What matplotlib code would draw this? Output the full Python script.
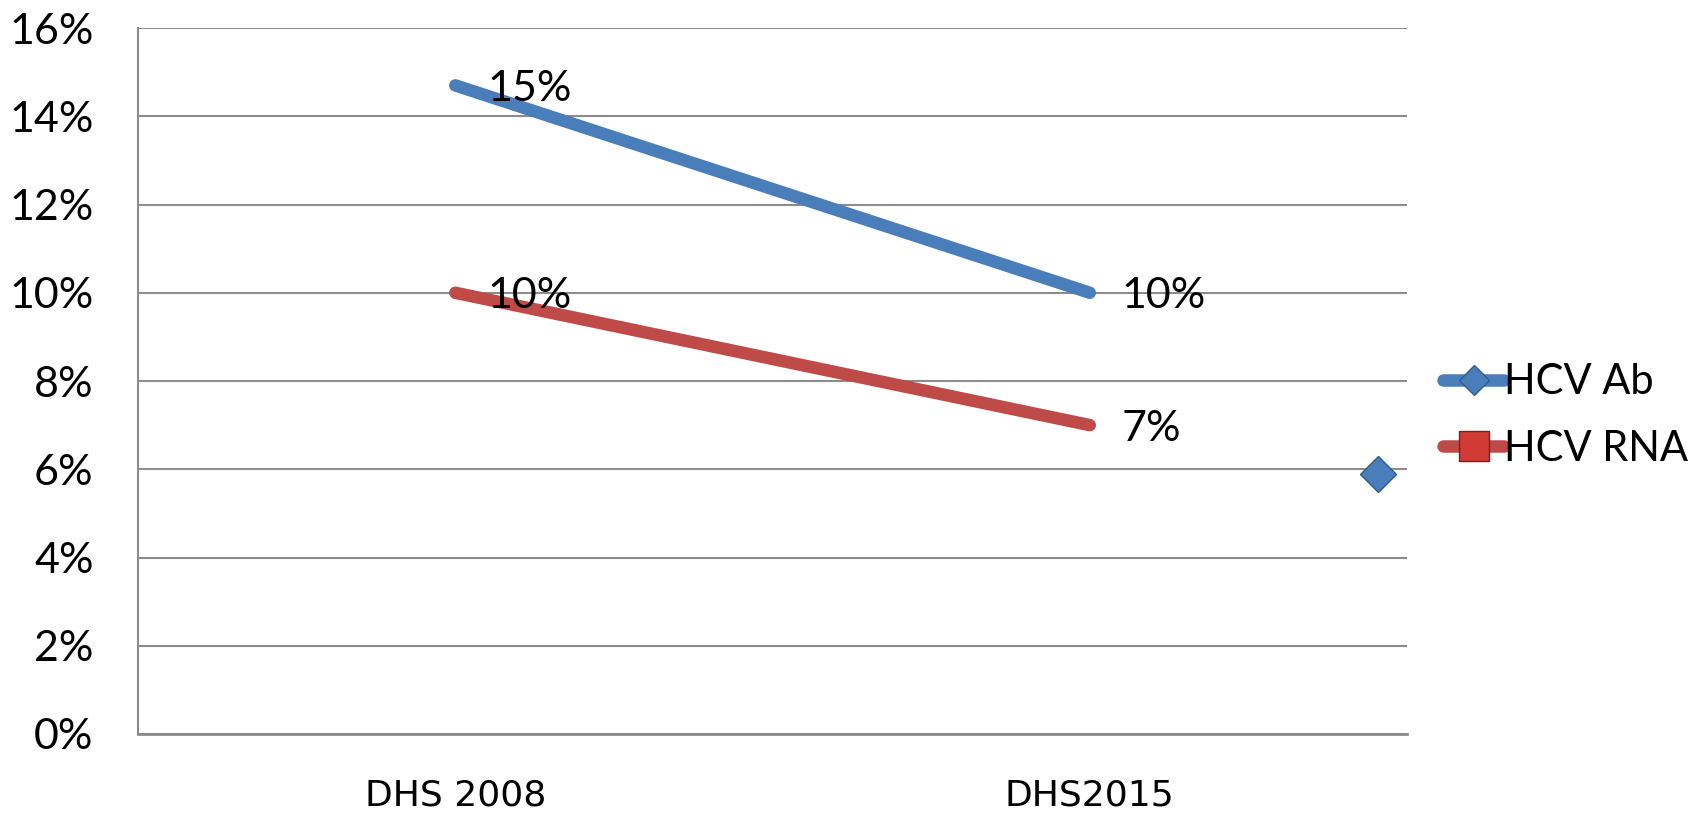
import matplotlib
matplotlib.use("Agg")
import matplotlib.pyplot as plt
from matplotlib.ticker import PercentFormatter, MultipleLocator
from matplotlib.lines import Line2D

categories = ["DHS 2008", "DHS2015"]
hcv_ab = [0.147, 0.100]
hcv_rna = [0.100, 0.070]
ab_labels = ["15%", "10%"]
rna_labels = ["10%", "7%"]
stray_x = [1.455]
stray_y = [0.059]

BLUE = "#4A7EBB"
RED = "#BE4B48"
GRID = "#8C8C8C"
FONT = ["Lato", "DejaVu Sans"]

plt.rcParams["font.family"] = FONT

fig = plt.figure(figsize=(17.02, 8.15), dpi=100)
ax = fig.add_axes([0.0811, 0.0994, 0.8267 - 0.0811, 0.9656 - 0.0994])

x = list(range(len(categories)))
LW = 9
ax.plot(x, hcv_ab, color=BLUE, lw=LW, solid_capstyle="round", zorder=3)
ax.plot(x, hcv_rna, color=RED, lw=LW, solid_capstyle="round", zorder=3)
ax.plot(stray_x, stray_y, ls="none", marker="D", ms=18.5, mfc=BLUE,
        mec="#2F5C8F", mew=1.0, zorder=4, clip_on=False)

for xi, yi, t in zip(x, hcv_ab, ab_labels):
    ax.annotate(t, (xi, yi), xytext=(23, 0), textcoords="offset points",
                ha="left", va="center_baseline", fontsize=31, color="black", zorder=5)
for xi, yi, t in zip(x, hcv_rna, rna_labels):
    ax.annotate(t, (xi, yi), xytext=(23, 0), textcoords="offset points",
                ha="left", va="center_baseline", fontsize=31, color="black", zorder=5)

ax.set_xlim(-0.5, 1.5)
ax.set_ylim(0, 0.16)
ax.yaxis.set_major_locator(MultipleLocator(0.02))
ax.yaxis.set_major_formatter(PercentFormatter(1.0, decimals=0))
ax.set_xticks(x)
ax.set_xticklabels(categories, family=["Liberation Sans Narrow", "DejaVu Sans"],
                   fontsize=26)
ax.tick_params(axis="x", length=0, pad=32)
ax.tick_params(axis="y", length=0, pad=32, labelsize=31)

ax.grid(axis="y", color=GRID, lw=1.5, zorder=0)
ax.set_axisbelow(True)
for s in ["top", "right"]:
    ax.spines[s].set_visible(False)
ax.spines["left"].set_color(GRID)
ax.spines["left"].set_linewidth(1.5)
ax.spines["bottom"].set_color(GRID)
ax.spines["bottom"].set_linewidth(2.0)

handles = [
    Line2D([0], [0], color=BLUE, lw=LW, solid_capstyle="round", marker="D",
           ms=15, mfc=BLUE, mec="#2F5C8F"),
    Line2D([0], [0], color=RED, lw=LW, solid_capstyle="round", marker="s",
           ms=22, mfc="#D23A36", mec="#7A1F1D"),
]
fig.legend(handles, ["HCV Ab", "HCV RNA"], loc="center left",
           bbox_to_anchor=(0.848, 0.49), frameon=False, fontsize=30,
           handlelength=1.45, handletextpad=0.0, labelspacing=0.68,
           borderaxespad=0, borderpad=0)

fig.savefig("out.png", dpi=100)
